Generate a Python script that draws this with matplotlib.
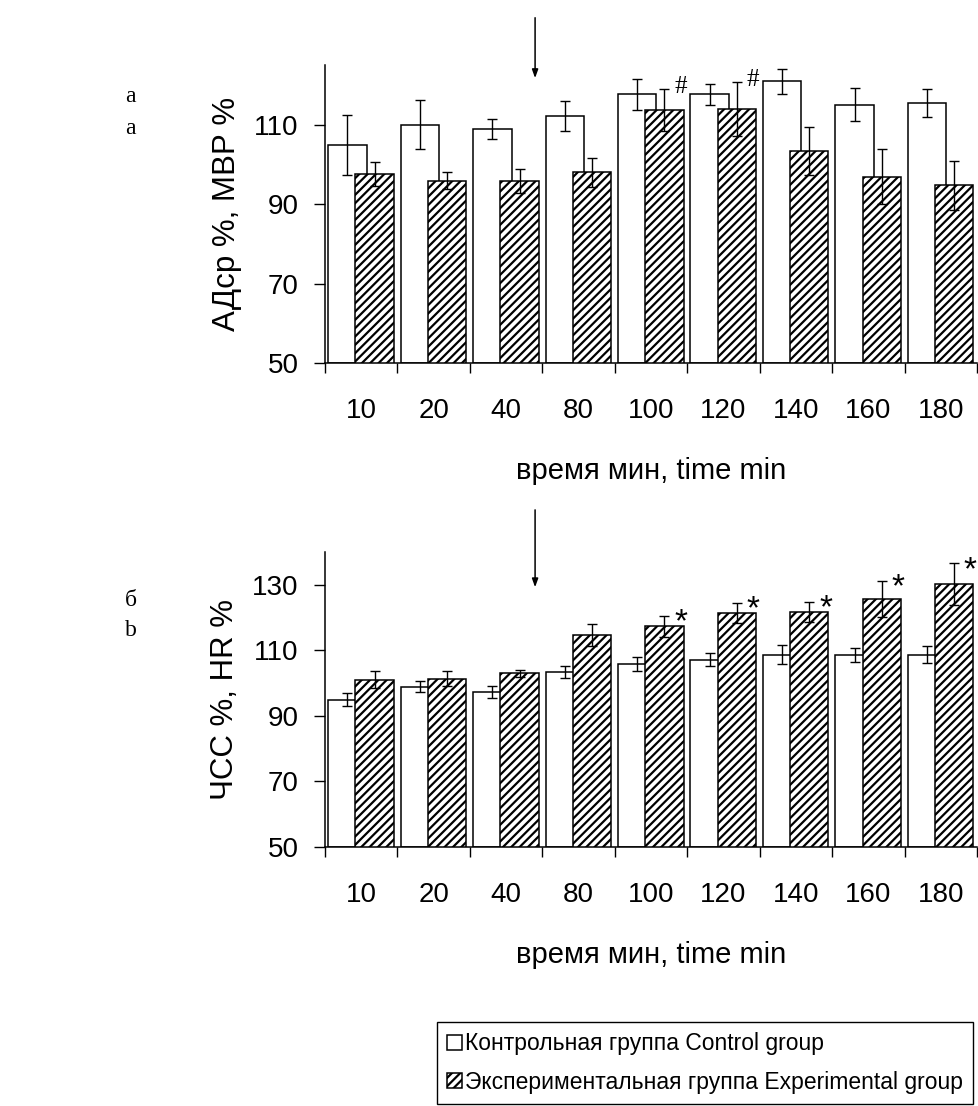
import numpy as np
import matplotlib
matplotlib.use('Agg')
import matplotlib.pyplot as plt

plt.rcParams['font.family'] = ['Liberation Sans', 'DejaVu Sans']
plt.rcParams['hatch.linewidth'] = 1.6

# Дані
labels = ['10', '20', '40', '80', '100', '120', '140', '160', '180']

map_ctrl = [104.9, 110.0, 108.9, 112.2, 117.6, 117.6, 120.9, 115.0, 115.5]
map_ctrl_err = [7.5, 6.2, 2.5, 3.7, 3.8, 2.6, 3.1, 4.2, 3.5]
map_exp = [97.6, 95.9, 95.9, 98.0, 113.6, 114.0, 103.4, 96.9, 94.7]
map_exp_err = [3.0, 2.1, 3.0, 3.7, 5.3, 6.8, 6.0, 6.9, 6.1]
map_marks = ['', '', '', '', '#', '#', '', '', '']

hr_ctrl = [94.9, 98.9, 97.4, 103.3, 105.9, 107.2, 108.6, 108.6, 108.6]
hr_ctrl_err = [2.0, 1.7, 1.8, 1.8, 2.2, 1.9, 2.9, 2.2, 2.6]
hr_exp = [101.1, 101.4, 103.0, 114.7, 117.3, 121.3, 121.7, 125.7, 130.1]
hr_exp_err = [2.6, 2.2, 1.1, 3.3, 3.2, 3.1, 3.1, 5.4, 6.4]
hr_marks = ['', '', '', '', '*', '*', '*', '*', '*']

W, H = 979, 1106
fig = plt.figure(figsize=(W / 100, H / 100), dpi=100)


def panel(rect, ctrl, ctrl_err, exp, exp_err, marks, ymax, ylabel, arrow_y):
    ax = fig.add_axes(rect)
    x = np.arange(len(labels))
    w = 0.53
    b1 = ax.bar(x - 0.19, np.array(ctrl) - 50, w, bottom=50, color='white',
                edgecolor='black', linewidth=1.1, zorder=2)
    ax.errorbar(x - 0.19, ctrl, yerr=ctrl_err, fmt='none', ecolor='black',
                elinewidth=1, capsize=3.5, capthick=1, zorder=3)
    b2 = ax.bar(x + 0.185, np.array(exp) - 50, w, bottom=50, color='white',
                edgecolor='black', hatch='////', linewidth=1.1, zorder=4)
    ax.errorbar(x + 0.185, exp, yerr=exp_err, fmt='none', ecolor='black',
                elinewidth=1, capsize=3.5, capthick=1, zorder=5)
    for i, m in enumerate(marks):
        if m == '#':
            ax.annotate(m, (x[i] + 0.185, exp[i] + exp_err[i]),
                        xytext=(7, -3), textcoords='offset points',
                        ha='left', va='baseline', fontsize=18,
                        family='Liberation Serif', annotation_clip=False)
        elif m == '*':
            ax.annotate(m, (x[i] + 0.185, exp[i] + exp_err[i]),
                        xytext=(7, -5), textcoords='offset points',
                        ha='left', va='center', fontsize=24,
                        annotation_clip=False)

    ax.set_xlim(-0.5, len(labels) - 0.5)
    ax.set_ylim(50, ymax)
    ax.set_yticks([50, 70, 90, 110, 130][:int((ymax - 50) // 20) + 1])
    ax.set_xticks(np.arange(len(labels) + 1) - 0.5)
    ax.set_xticklabels([])
    ax.set_xticks(x, minor=True)
    ax.set_xticklabels(labels, minor=True)
    ax.tick_params(axis='x', which='major', direction='out', length=7, width=1)
    ax.tick_params(axis='x', which='minor', length=0, pad=25, labelsize=20)
    ax.tick_params(axis='y', direction='out', length=8, width=1, pad=11,
                   labelsize=20)
    for s in ['top', 'right']:
        ax.spines[s].set_visible(False)
    for s in ['left', 'bottom']:
        ax.spines[s].set_linewidth(1.1)
    ax.set_xlabel('время мин, time min', fontsize=21, labelpad=24)
    ax.set_ylabel(ylabel, fontsize=22.5, labelpad=9)

    ax.annotate('', xy=(2.4, arrow_y[0]), xytext=(2.4, arrow_y[1]),
                arrowprops=dict(arrowstyle='-|>,head_length=0.5,head_width=0.18',
                                color='black', lw=1.1),
                annotation_clip=False)
    return b1, b2


top = panel([325 / W, 1 - 363 / H, 652 / W, 298 / H], map_ctrl, map_ctrl_err,
            map_exp, map_exp_err, map_marks, 125, 'АДср %, МВР %', (121, 137.6))
bot = panel([325 / W, 1 - 847 / H, 652 / W, 295 / H], hr_ctrl, hr_ctrl_err,
            hr_exp, hr_exp_err, hr_marks, 140, 'ЧСС %, HR %', (128.4, 153.7))

for txt, yy in [('a', 97), ('a', 128), ('б', 600), ('b', 630)]:
    fig.text(125 / W, 1 - yy / H, txt, fontsize=17, family='Liberation Serif',
             ha='left', va='center')

leg = fig.legend(top, ['Контрольная группа Control group',
                       'Экспериментальная группа Experimental group'],
                 loc='upper left', bbox_to_anchor=(437 / W, 1 - 1022 / H),
                 fontsize=16.5, frameon=True, fancybox=False, framealpha=1,
                 edgecolor='black', handlelength=0.62, handleheight=0.62,
                 handletextpad=0.15, borderpad=0.45, labelspacing=0.68,
                 borderaxespad=0)
leg.get_frame().set_linewidth(1)

fig.savefig('out.png', dpi=100)
